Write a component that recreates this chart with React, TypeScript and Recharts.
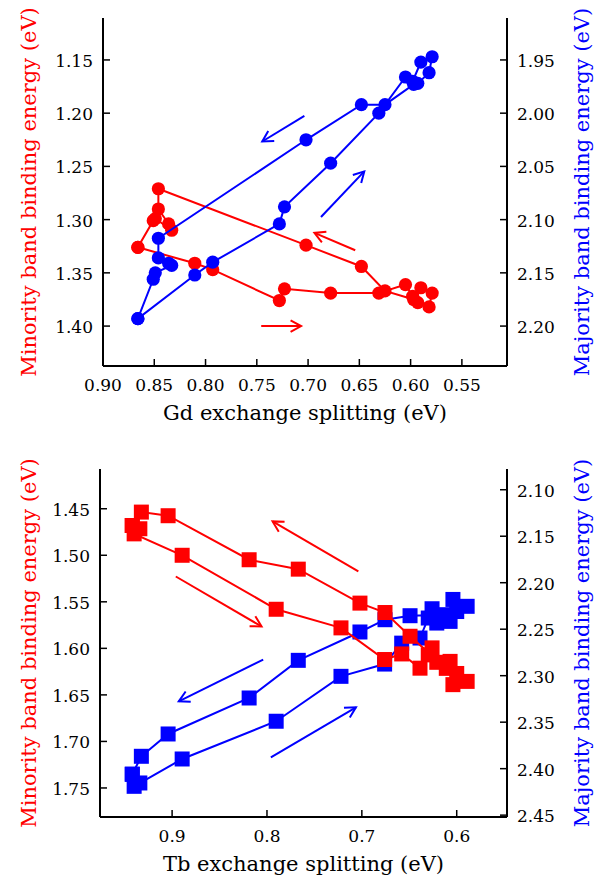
import { ScatterChart, Scatter, XAxis, YAxis, ReferenceLine } from 'recharts';

// Gd panel (shared splitting values, minority on left axis, majority on right)
const gdSplitting = [0.866, 0.8105, 0.793, 0.728, 0.723, 0.678, 0.631, 0.605, 0.598, 0.59, 0.579, 0.582, 0.593, 0.597, 0.625, 0.648, 0.702, 0.846, 0.846, 0.836, 0.833, 0.849, 0.851, 0.866];
const gdMinority = [1.326, 1.341, 1.347, 1.376, 1.365, 1.369, 1.369, 1.361, 1.372, 1.364, 1.369, 1.382, 1.378, 1.375, 1.367, 1.344, 1.324, 1.271, 1.29, 1.304, 1.31, 1.299, 1.301, 1.326];
const gdMajority = [2.193, 2.152, 2.14, 2.104, 2.088, 2.047, 2.0, 1.966, 1.97, 1.952, 1.947, 1.962, 1.972, 1.973, 1.992, 1.992, 2.025, 2.1175, 2.136, 2.141, 2.143, 2.15, 2.156, 2.193];

// Tb panel
const tbSplitting = [0.942, 0.934, 0.94, 0.8894, 0.7903, 0.722, 0.676, 0.658, 0.6387, 0.63, 0.626, 0.621, 0.607, 0.604, 0.589, 0.6, 0.611, 0.6492, 0.6756, 0.702, 0.767, 0.8188, 0.9042, 0.9324, 0.942];
const tbMinority = [1.468, 1.4715, 1.477, 1.5, 1.558, 1.578, 1.612, 1.606, 1.6213, 1.607, 1.5995, 1.615, 1.614, 1.639, 1.6355, 1.627, 1.6215, 1.587, 1.5615, 1.5514, 1.5149, 1.5048, 1.4575, 1.4536, 1.468];
const tbMajority = [2.406, 2.4154, 2.419, 2.3896, 2.349, 2.3007, 2.2875, 2.265, 2.2595, 2.238, 2.228, 2.2434, 2.2416, 2.218, 2.2254, 2.231, 2.2344, 2.2355, 2.2398, 2.253, 2.2835, 2.324, 2.3627, 2.3867, 2.406];

const gdXTicks = [0.9, 0.85, 0.8, 0.75, 0.7, 0.65, 0.6, 0.55];
const gdMinTicks = [1.15, 1.2, 1.25, 1.3, 1.35, 1.4];
const gdMajTicks = [1.95, 2.0, 2.05, 2.1, 2.15, 2.2];
const tbXTicks = [0.9, 0.8, 0.7, 0.6];
const tbMinTicks = [1.45, 1.5, 1.55, 1.6, 1.65, 1.7, 1.75];
const tbMajTicks = [2.1, 2.15, 2.2, 2.25, 2.3, 2.35, 2.4, 2.45];

// direction arrows: [x1, y1, x2, y2], head at the second point
const gdRedArrows = [[0.654, 1.3288, 0.6938, 1.3125], [0.7457, 1.4, 0.7068, 1.4]];
const gdBlueArrows = [[0.7036, 2.0025, 0.7447, 2.0266], [0.6874, 2.0975, 0.6452, 2.0547]];
const tbRedArrows = [[0.7037, 1.5174, 0.7941, 1.4636], [0.8961, 1.5228, 0.8057, 1.5765]];
const tbBlueArrows = [[0.804, 2.2828, 0.893, 2.3276], [0.7959, 2.3878, 0.7062, 2.334]];

const RED = '#ff0000';
const BLUE = '#0000ff';
const FONT = 'DejaVu Serif';
const txt = { fontFamily: FONT };

const zip = (xs: number[], ys: number[]) => xs.map((x, i) => ({ x, y: ys[i] }));

const arrowShape = (color: string) => (p: any) => {
  const { x1, y1, x2, y2 } = p;
  const a = Math.atan2(y2 - y1, x2 - x1);
  const L = 12;
  const s = 0.5;
  const hx1 = x2 - L * Math.cos(a - s);
  const hy1 = y2 - L * Math.sin(a - s);
  const hx2 = x2 - L * Math.cos(a + s);
  const hy2 = y2 - L * Math.sin(a + s);
  return (
    <g>
      <line x1={x1} y1={y1} x2={x2} y2={y2} stroke={color} strokeWidth={2} />
      <polyline points={`${hx1},${hy1} ${x2},${y2} ${hx2},${hy2}`} fill="none" stroke={color} strokeWidth={2} />
    </g>
  );
};

type PanelProps = {
  top: number;
  height: number;
  plot: { left: number; right: number; top: number; bottom: number };
  xDomain: [number, number];
  minDomain: [number, number];
  majDomain: [number, number];
  xTicks: number[];
  minTicks: number[];
  majTicks: number[];
  xDigits: number;
  xs: number[];
  minority: number[];
  majority: number[];
  square: boolean;
  redArrows: number[][];
  blueArrows: number[][];
  xTitle: string;
};

function Panel(props: PanelProps) {
  const { plot, square } = props;
  const W = 601;
  const red = zip(props.xs, props.minority);
  const blue = zip(props.xs, props.majority);
  const midY = (plot.top + plot.bottom) / 2;

  const marker = (color: string) => (p: any) =>
    square ? (
      <rect x={p.cx - 7.5} y={p.cy - 7.5} width={15} height={15} fill={color} />
    ) : (
      <circle cx={p.cx} cy={p.cy} r={6.6} fill={color} />
    );

  const bottomTick = (p: any) => (
    <g>
      <line x1={p.x} x2={p.x} y1={plot.bottom} y2={plot.bottom - 7} stroke="#000" strokeWidth={1.5} />
      <text x={p.x} y={plot.bottom + 25} textAnchor="middle" style={txt} fontSize={17} fill="#000">
        {Number(p.payload.value).toFixed(props.xDigits)}
      </text>
    </g>
  );
  const topTick = (p: any) => (
    <line x1={p.x} x2={p.x} y1={plot.top} y2={plot.top + 7} stroke="#000" strokeWidth={1.5} />
  );
  const leftTick = (p: any) => (
    <g>
      <line x1={plot.left} x2={plot.left + 7} y1={p.y} y2={p.y} stroke="#000" strokeWidth={1.5} />
      <text x={plot.left - 10} y={p.y + 7} textAnchor="end" style={txt} fontSize={17} fill="#000">
        {Number(p.payload.value).toFixed(2)}
      </text>
    </g>
  );
  const rightTick = (p: any) => (
    <g>
      <line x1={plot.right} x2={plot.right - 7} y1={p.y} y2={p.y} stroke="#000" strokeWidth={1.5} />
      <text x={plot.right + 10} y={p.y + 7} textAnchor="start" style={txt} fontSize={17} fill="#000">
        {Number(p.payload.value).toFixed(2)}
      </text>
    </g>
  );

  const redSeries = (
    <Scatter
      key="red"
      data={red}
      yAxisId="min"
      fill={RED}
      line={{ stroke: RED, strokeWidth: 2 }}
      shape={marker(RED)}
      isAnimationActive={false}
    />
  );
  const blueSeries = (
    <Scatter
      key="blue"
      data={blue}
      yAxisId="maj"
      fill={BLUE}
      line={{ stroke: BLUE, strokeWidth: 2 }}
      shape={marker(BLUE)}
      isAnimationActive={false}
    />
  );

  return (
    <div style={{ position: 'absolute', left: 0, top: props.top }}>
      <ScatterChart
        width={W}
        height={props.height}
        margin={{ top: plot.top, right: 0, bottom: 0, left: 0 }}
      >
        <XAxis
          type="number"
          dataKey="x"
          domain={props.xDomain}
          ticks={props.xTicks}
          reversed
          allowDataOverflow
          height={props.height - plot.bottom}
          axisLine={{ stroke: '#000', strokeWidth: 2 }}
          tickLine={false}
          tick={bottomTick}
          label={() => (
            <text x={(plot.left + plot.right) / 2} y={plot.bottom + 54} textAnchor="middle" style={txt} fontSize={21} fill="#000">
              {props.xTitle}
            </text>
          )}
        />
        <XAxis
          xAxisId="top"
          orientation="top"
          type="number"
          domain={props.xDomain}
          ticks={props.xTicks}
          reversed
          allowDataOverflow
          height={0}
          axisLine={{ stroke: '#000', strokeWidth: 2 }}
          tickLine={false}
          tick={topTick}
        />
        <YAxis
          yAxisId="min"
          type="number"
          dataKey="y"
          domain={props.minDomain}
          ticks={props.minTicks}
          reversed
          allowDataOverflow
          width={plot.left}
          axisLine={{ stroke: '#000', strokeWidth: 2 }}
          tickLine={false}
          tick={leftTick}
          label={() => (
            <text x={36} y={midY} transform={`rotate(-90 36 ${midY})`} textAnchor="middle" style={txt} fontSize={21} fill={RED}>
              Minority band binding energy (eV)
            </text>
          )}
        />
        <YAxis
          yAxisId="maj"
          orientation="right"
          type="number"
          dataKey="y"
          domain={props.majDomain}
          ticks={props.majTicks}
          reversed
          allowDataOverflow
          width={W - plot.right}
          axisLine={{ stroke: '#000', strokeWidth: 2 }}
          tickLine={false}
          tick={rightTick}
          label={() => (
            <text x={589} y={midY} transform={`rotate(-90 589 ${midY})`} textAnchor="middle" style={txt} fontSize={21} fill={BLUE}>
              Majority band binding energy (eV)
            </text>
          )}
        />
        {square ? [blueSeries, redSeries] : [redSeries, blueSeries]}
        {props.redArrows.map((a, i) => (
          <ReferenceLine
            key={`ra${i}`}
            yAxisId="min"
            segment={[{ x: a[0], y: a[1] }, { x: a[2], y: a[3] }]}
            shape={arrowShape(RED)}
          />
        ))}
        {props.blueArrows.map((a, i) => (
          <ReferenceLine
            key={`ba${i}`}
            yAxisId="maj"
            segment={[{ x: a[0], y: a[1] }, { x: a[2], y: a[3] }]}
            shape={arrowShape(BLUE)}
          />
        ))}
      </ScatterChart>
    </div>
  );
}

export default function App() {
  return (
    <div style={{ position: 'absolute', left: 0, top: 0, width: 601, height: 878, background: '#fff' }}>
      <Panel
        top={0}
        height={430}
        plot={{ left: 103, right: 507, top: 18, bottom: 366 }}
        xDomain={[0.506, 0.9]}
        minDomain={[1.1106, 1.4375]}
        majDomain={[1.9106, 2.2375]}
        xTicks={gdXTicks}
        minTicks={gdMinTicks}
        majTicks={gdMajTicks}
        xDigits={2}
        xs={gdSplitting}
        minority={gdMinority}
        majority={gdMajority}
        square={false}
        redArrows={gdRedArrows}
        blueArrows={gdBlueArrows}
        xTitle="Gd exchange splitting (eV)"
      />
      <Panel
        top={440}
        height={438}
        plot={{ left: 100, right: 507, top: 29, bottom: 377 }}
        xDomain={[0.547, 0.976]}
        minDomain={[1.4073, 1.7812]}
        majDomain={[2.0777, 2.452]}
        xTicks={tbXTicks}
        minTicks={tbMinTicks}
        majTicks={tbMajTicks}
        xDigits={1}
        xs={tbSplitting}
        minority={tbMinority}
        majority={tbMajority}
        square={true}
        redArrows={tbRedArrows}
        blueArrows={tbBlueArrows}
        xTitle="Tb exchange splitting (eV)"
      />
    </div>
  );
}
